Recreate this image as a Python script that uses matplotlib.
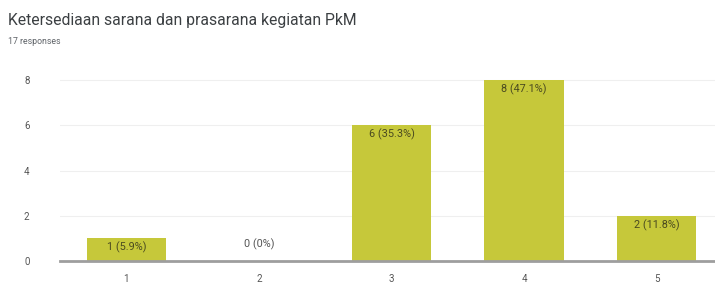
import matplotlib.pyplot as plt
import numpy as np

plt.rcParams['font.family'] = ['Roboto', 'DejaVu Sans']

title = 'Ketersediaan sarana dan prasarana kegiatan PkM'
subtitle = '17 responses'
categories = ['1', '2', '3', '4', '5']
counts = [1, 0, 6, 8, 2]
labels = ['1 (5.9%)', '0 (0%)', '6 (35.3%)', '8 (47.1%)', '2 (11.8%)']
yticks = [0, 2, 4, 6, 8]

fig = plt.figure(figsize=(7.15, 2.82), dpi=100)
ax = fig.add_axes([60/715, 21/282, 655/715, 185/282])

x = np.arange(1, len(categories)+1)
ax.bar(x, counts, width=0.6, color='#c6c83a', zorder=2)

for xi, c, lab in zip(x, counts, labels):
    if c > 0:
        ax.text(xi, c - 0.15, lab, ha='center', va='top', fontsize=7.8, color='#4a4a20', zorder=3)
    else:
        ax.text(xi, 0.75, lab, ha='center', va='center', fontsize=7.8, color='#555555', zorder=3)

ax.set_xlim(0.5, 5.44)
ax.set_ylim(0, 8.18)
ax.set_xticks(x)
ax.set_xticklabels(categories)
ax.set_yticks(yticks)
ax.tick_params(axis='both', length=0, labelsize=7, colors='#555555')
ax.tick_params(axis='x', pad=9)
ax.tick_params(axis='y', pad=22)
ax.grid(axis='y', color='#efefef', linewidth=0.8, zorder=0)
for s in ['top', 'right', 'left']:
    ax.spines[s].set_visible(False)
ax.spines['bottom'].set_color('#9e9e9e')
ax.spines['bottom'].set_linewidth(2)
ax.spines['bottom'].set_zorder(4)

fig.text(8/715, 1 - 21/282, title, fontsize=11.3, color='#3c4043', va='center', ha='left')
fig.text(8/715, 1 - 42/282, subtitle, fontsize=6.3, color='#5f6368', va='center', ha='left')

fig.savefig('out.png', dpi=100)
